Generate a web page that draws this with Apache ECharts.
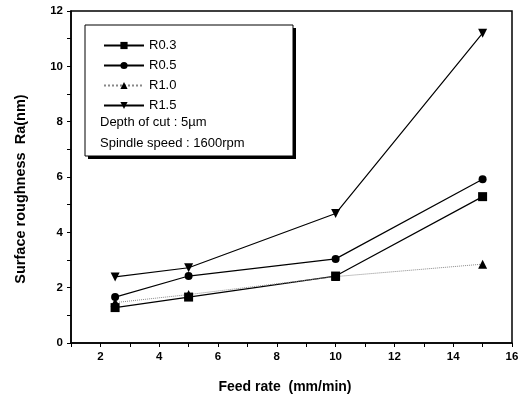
<!DOCTYPE html>
<html>
<head>
<meta charset="utf-8">
<script src="https://cdn.jsdelivr.net/npm/echarts@6/dist/echarts.min.js"></script>
<style>
  html, body { margin: 0; padding: 0; background: #fff; }
  #chart { width: 523px; height: 398px; }
</style>
</head>
<body>
<div id="chart"></div>
<script>
const feedRate = [2.5, 5, 10, 15];
const r03 = [1.28, 1.66, 2.42, 5.29];
const r05 = [1.66, 2.42, 3.04, 5.92];
const r10 = [1.46, 1.75, 2.40, 2.85];
const r15 = [2.39, 2.72, 4.68, 11.2];
const notes = ["Depth of cut : 5\u00b5m", "Spindle speed : 1600rpm"];
const xTitle = "Feed rate  (mm/min)";
const yTitle = "Surface roughness  Ra(nm)";

const font = "Arial, 'Liberation Sans', sans-serif";

function pairs(ys) {
  return feedRate.map((x, i) => [x, ys[i]]);
}

function lineSeries(name, ys, symbol, dotted) {
  return {
    type: "line",
    name: name,
    data: pairs(ys),
    symbol: symbol,
    symbolSize: symbol === "circle" ? 8 : 9,
    itemStyle: { color: "#000" },
    lineStyle: {
      color: dotted ? "#888" : "#000",
      width: dotted ? 1 : 1.2,
      type: dotted ? "dotted" : "solid",
    },
    emphasis: { disabled: true },
  };
}

const tickLabel = {
  fontFamily: font,
  fontWeight: "bold",
  fontSize: 11.5,
  color: "#000",
  margin: 8,
  formatter: (v) => (v % 2 === 0 ? String(v) : ""),
};

const chart = echarts.init(document.getElementById("chart"));
chart.setOption({
  animation: false,
  grid: {
    left: 71,
    right: 11,
    top: 11,
    bottom: 55,
    show: true,
    borderColor: "#000",
    borderWidth: 1.5,
  },
  xAxis: {
    type: "value",
    min: 1,
    max: 16,
    interval: 1,
    axisLine: { lineStyle: { color: "#000", width: 1.5 } },
    axisTick: { length: 4, lineStyle: { color: "#000" } },
    axisLabel: tickLabel,
    splitLine: { show: false },
  },
  yAxis: {
    type: "value",
    min: 0,
    max: 12,
    interval: 1,
    axisLine: { show: true, lineStyle: { color: "#000", width: 1.5 } },
    axisTick: { show: true, length: 4, lineStyle: { color: "#000" } },
    axisLabel: tickLabel,
    splitLine: { show: false },
  },
  legend: {
    orient: "vertical",
    left: 98,
    top: 34,
    itemWidth: 40,
    itemHeight: 9,
    itemGap: 7,
    textStyle: { fontFamily: font, fontSize: 13, color: "#000" },
    data: ["R0.3", "R0.5", "R1.0", "R1.5"],
  },
  graphic: [
    {
      type: "rect",
      shape: { x: 88, y: 28, width: 208, height: 131 },
      style: { fill: "#000" },
      z: 0,
    },
    {
      type: "rect",
      shape: { x: 85, y: 25, width: 208, height: 131 },
      style: { fill: "#fff", stroke: "#000", lineWidth: 1 },
      z: 1,
    },
    {
      type: "text",
      left: 100,
      top: 116,
      style: { text: notes[0], fontFamily: font, fontSize: 13, fill: "#000" },
      z: 2,
    },
    {
      type: "text",
      left: 100,
      top: 137,
      style: { text: notes[1], fontFamily: font, fontSize: 13, fill: "#000" },
      z: 2,
    },
    {
      type: "text",
      x: 285,
      y: 387,
      style: {
        text: xTitle, fontFamily: font, fontWeight: "bold", fontSize: 14,
        fill: "#000", align: "center", verticalAlign: "middle",
      },
    },
    {
      type: "text",
      x: 21,
      y: 189,
      rotation: Math.PI / 2,
      style: {
        text: yTitle, fontFamily: font, fontWeight: "bold", fontSize: 14.5,
        fill: "#000", align: "center", verticalAlign: "middle",
      },
    },
  ],
  series: [
    lineSeries("R0.3", r03, "rect", false),
    lineSeries("R0.5", r05, "circle", false),
    lineSeries("R1.0", r10, "triangle", true),
    Object.assign(lineSeries("R1.5", r15, "triangle", false), { symbolRotate: 180 }),
  ],
});
</script>
</body>
</html>
